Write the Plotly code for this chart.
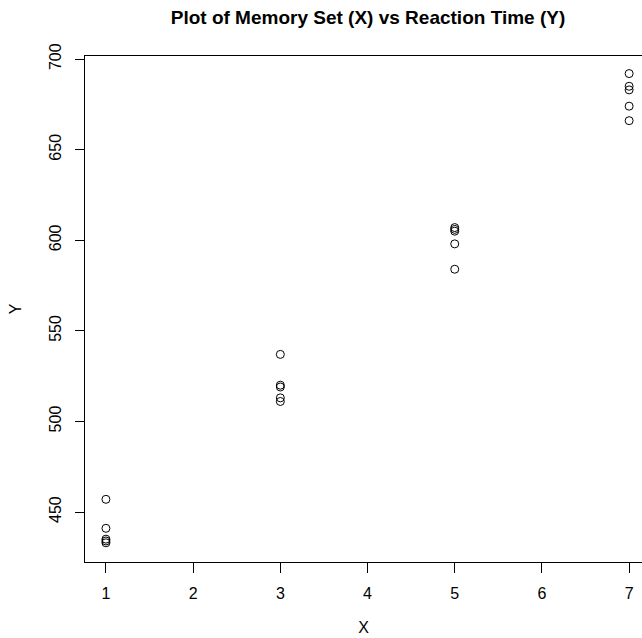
import plotly.graph_objects as go

# Memory set size (X) and reaction time (Y)
x_vals = [1, 1, 1, 1, 1,
          3, 3, 3, 3, 3,
          5, 5, 5, 5, 5,
          7, 7, 7, 7, 7]
y_vals = [457, 441, 435, 434, 433,
          537, 520, 519, 513, 511,
          607, 606, 605, 598, 584,
          692, 685, 683, 674, 666]
x_ticks = [1, 2, 3, 4, 5, 6, 7]
y_ticks = [450, 500, 550, 600, 650, 700]

title_text = "Plot of Memory Set (X) vs Reaction Time (Y)"

fig = go.Figure()
fig.add_trace(go.Scatter(
    x=x_vals, y=y_vals, mode="markers",
    marker=dict(symbol="circle-open", size=8, color="black",
                line=dict(width=1, color="black")),
    showlegend=False,
))

font = "Liberation Sans, Arial, sans-serif"
fig.update_layout(
    width=642, height=638,
    margin=dict(l=85, r=0, t=56, b=76),
    paper_bgcolor="white", plot_bgcolor="white",
    font=dict(family=font, size=16, color="black"),
    title=dict(text="<b>" + title_text + "</b>", x=(85 + 651) / 2 / 642,
               xanchor="center", y=1 - 17 / 638, yanchor="middle",
               font=dict(family=font, size=19, color="black")),
    xaxis=dict(range=[0.76, 0.76 + (642 - 85) / 87.2], tickvals=x_ticks,
               showgrid=False, zeroline=False, showline=True, mirror=True,
               linecolor="black", linewidth=1, ticks="outside", ticklen=10,
               tickcolor="black", ticklabelstandoff=7,
               title=dict(text="X", standoff=20, font=dict(size=16))),
    yaxis=dict(range=[422.4, 701.7], tickvals=y_ticks, tickangle=-90,
               showgrid=False, zeroline=False, showline=True, mirror=False,
               linecolor="black", linewidth=1, ticks="outside", ticklen=9,
               tickcolor="black", ticklabelstandoff=8,
               title=dict(text="Y", standoff=20, font=dict(size=16))),
)

fig.write_html("out.html")
